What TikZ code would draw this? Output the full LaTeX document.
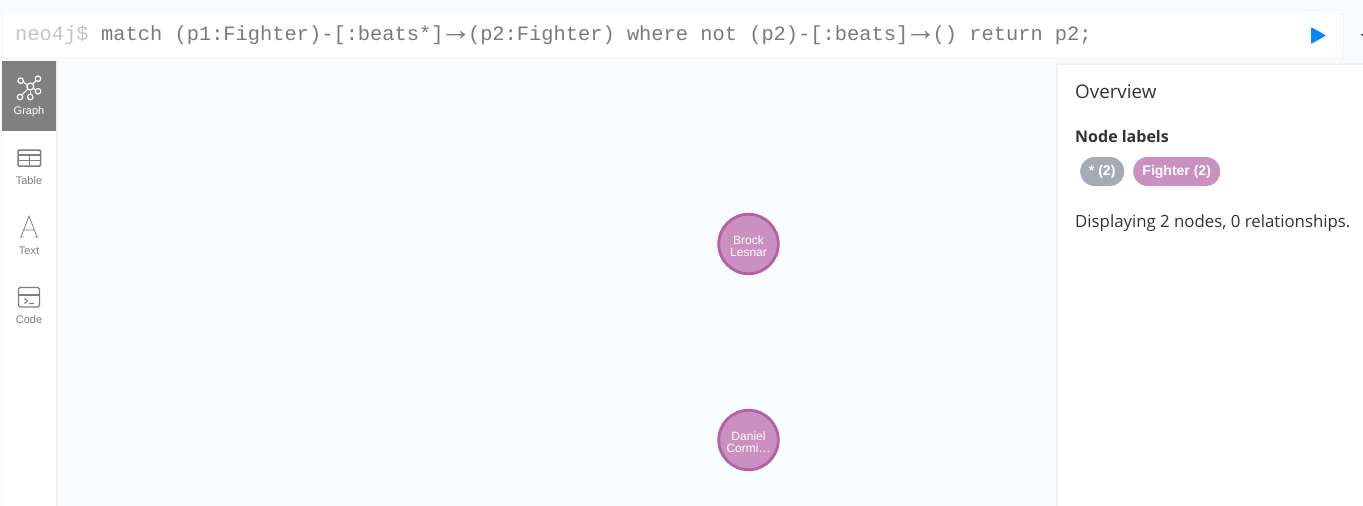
\documentclass[tikz,border=0pt]{standalone}
\usepackage{fontspec}
\setmainfont{Open Sans}
\setsansfont{Liberation Sans}
\setmonofont{Liberation Mono}
\usepackage{xcolor}
\usetikzlibrary{positioning}
\definecolor{pagebg}{HTML}{F9FCFF}
\definecolor{barline}{HTML}{D6E6F3}
\definecolor{fighterfill}{HTML}{C990C0}
\definecolor{fighterline}{HTML}{B261A5}
\definecolor{anypill}{HTML}{A5ABB6}
\definecolor{btnactive}{HTML}{808080}
\definecolor{iconcol}{HTML}{7F7F7F}
\definecolor{codecol}{HTML}{7A7A7A}
\definecolor{promptcol}{HTML}{C4C4C4}
\definecolor{playblue}{HTML}{0A84FF}
\definecolor{darktext}{HTML}{333333}
\tikzstyle{vertex}=[circle,draw=fighterline,line width=2.8pt,fill=fighterfill,minimum size=59.5pt,inner sep=0pt,align=center,text=white,font=\sffamily\fontsize{12}{12}\selectfont]
\tikzstyle{pill}=[rounded corners=14.5pt,minimum height=29pt,inner sep=0pt,text=white,font=\sffamily\bfseries\fontsize{14}{14}\selectfont]
\tikzstyle{tablabel}=[inner sep=0pt,font=\sffamily\fontsize{11}{11}\selectfont]
\tikzstyle{panelhead}=[inner sep=0pt,anchor=base west,text=darktext]
\tikzstyle{iconline}=[draw=iconcol,line width=1.1pt]
\tikzstyle{graphdot}=[circle,draw=white,line width=1.2pt,minimum size=5.5pt,inner sep=0pt]
\newcommand{\longarrow}{\makebox[24.4pt]{\raisebox{-.4pt}{\sffamily\fontsize{32}{32}\selectfont\char"2192}}}
\newcommand{\topgap}{\rule{0pt}{12.6pt}}
\begin{document}
\begin{tikzpicture}[x=1pt,y=-1pt]
    \useasboundingbox (0,0) rectangle (1363,506);
    \fill[pagebg] (0,0) rectangle (1363,506);
    % query bar
    \draw[barline,fill=white,rounded corners=2pt] (2.5,10.5) rectangle (1343.5,58.5);
    \node[inner sep=0pt,anchor=base west,text=promptcol,font=\ttfamily\fontsize{20.38}{20.38}\selectfont] (prompt) at (15,40.5) {neo4j\$};
    \node[inner sep=0pt,anchor=base west,text=codecol,font=\ttfamily\fontsize{20.38}{20.38}\selectfont] (query) at (101,40.5) {match (p1:Fighter)-[:beats*]\longarrow(p2:Fighter) where not (p2)-[:beats]\longarrow() return p2;};
    \fill[playblue,rounded corners=1pt] (1311,27) -- (1326,35.5) -- (1311,44) -- cycle;
    \fill[darktext] (1360.5,34) -- (1363,34) -- (1363,36.5) -- cycle;
    % side bar
    \fill[black!6] (56,61) rectangle (58,506);
    \fill[white] (2,61) rectangle (56,506);
    \fill[btnactive] (2,61) rectangle (56,131);
    \foreach \pos/\name/\col/\text in {{(29,111.5)/tabgraph/white/Graph}, {(29,181)/tabtable/iconcol/Table}, {(29,251)/tabtext/iconcol/Text}, {(29,320)/tabcode/iconcol/Code}}
        \node[tablabel,text=\col] (\name) at \pos {\text};
    % graph icon
    \node[graphdot,minimum size=7pt] (hub) at (30.3,86.5) {};
    \foreach \pos/\name in {{(20.7,80.7)/sa}, {(38,78.7)/sb}, {(38,91.3)/sc}, {(30.3,97)/sd}, {(20,97)/se}}{
        \node[graphdot] (\name) at \pos {};
        \draw[white,line width=1.1pt] (hub) -- (\name);
    }
    % table icon
    \draw[iconline,rounded corners=1pt,line width=1.5pt] (18,150) rectangle (40.5,166);
    \draw[iconline] (18,155) -- (40.5,155) (18,160.5) -- (40.5,160.5) (29.2,155) -- (29.2,166);
    % text icon
    \draw[iconline,line width=.8pt] (21,237) -- (29,216) -- (37,237) (24,230) -- (34,230) (19.5,237) -- (23.5,237) (34.5,237) -- (38.5,237);
    % code icon
    \draw[iconline,rounded corners=1.5pt,line width=1.3pt] (18.5,287.5) rectangle (39.5,307);
    \draw[iconline] (18.5,295) -- (39.5,295);
    \draw[iconline] (24.5,298.5) -- (27.5,301) -- (24.5,303.5) (29,303.5) -- (34,303.5);
    % overview panel
    \fill[black!5] (1055.5,63) rectangle (1363,506);
    \fill[white] (1058,65) rectangle (1363,506);
    \node[panelhead,font=\fontsize{18.8}{18.8}\selectfont] (overview) at (1075,98) {Overview};
    \node[panelhead,font=\bfseries\fontsize{16}{16}\selectfont] (nodelabels) at (1075,142) {Node labels};
    \node[pill,fill=anypill,minimum width=44pt,anchor=west] (anylabel) at (1080,171.5) {* (2)};
    \node[pill,fill=fighterfill,minimum width=87pt,anchor=west] (fighterlabel) at (1133,171.5) {Fighter (2)};
    \node[panelhead,font=\fontsize{16.8}{16.8}\selectfont] (summary) at (1075,227) {Displaying 2 nodes, 0 relationships.};
    % result nodes
    \foreach \pos/\name/\text in {{(748.5,244)/brock/\topgap Brock\\Lesnar}, {(748.5,440)/daniel/\topgap Daniel\\Cormi\ldots}}
        \node[vertex] (\name) at \pos {\text};
\end{tikzpicture}
\end{document}
